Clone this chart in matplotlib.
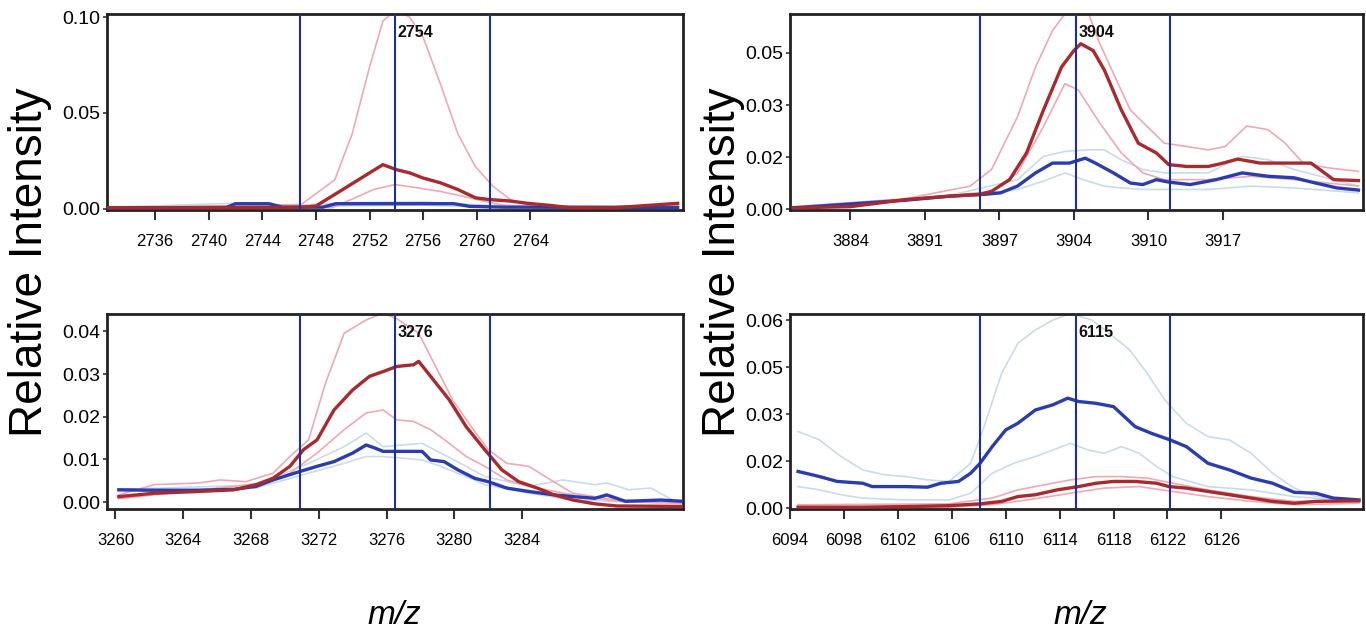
import matplotlib
matplotlib.use("Agg")
import matplotlib.pyplot as plt

plt.rcParams['font.family'] = ['Liberation Sans', 'DejaVu Sans']

# ---- top left: peak 2754 ----
tl_xlim = (2732.4, 2775.4)
tl_ylim = (-0.0007, 0.1017)
tl_xticks = [2736, 2740, 2744, 2748, 2752, 2756, 2760, 2764]
tl_yticks = [0.0, 0.05, 0.10]
tl_ylabels = ['0.00', '0.05', '0.10']
tl_marks = [2746.8, 2753.9, 2761.0]
tl_peak = '2754'

tl_red_x = [2732.4, 2740, 2746.8, 2748, 2750, 2752, 2753, 2754, 2755, 2756, 2757.3, 2758.6,
            2759.9, 2760.9, 2762.5, 2763.8, 2765.5, 2767, 2770.3, 2775]
tl_red_y = [0.0005, 0.0005, 0.0007, 0.0014, 0.010, 0.0187, 0.023, 0.0204, 0.0187, 0.016, 0.0135,
            0.010, 0.0057, 0.0048, 0.004, 0.0028, 0.0017, 0.0005, 0.0005, 0.0028]
tl_pink_hi_x = [2732.4, 2746.9, 2749.4, 2750.7, 2752, 2753, 2754, 2755, 2756, 2757.3, 2758.6,
                2759.9, 2761.2, 2762.5, 2763.8, 2766, 2775]
tl_pink_hi_y = [0.0005, 0.0022, 0.015, 0.039, 0.074, 0.098, 0.104, 0.100, 0.0896, 0.065, 0.039,
                0.022, 0.0118, 0.0048, 0.0022, 0.001, 0.0015]
tl_pink_lo_x = [2732.4, 2749.2, 2750.7, 2752.3, 2753.9, 2755.5, 2757.3, 2758.9, 2760.5, 2762.1,
                2765, 2775]
tl_pink_lo_y = [0.0003, 0.0005, 0.005, 0.010, 0.0126, 0.011, 0.009, 0.0066, 0.004, 0.0017,
                0.0005, 0.001]
tl_blue_x = [2732.4, 2741.3, 2742, 2744.5, 2745.5, 2748.5, 2749.5, 2758.3, 2759.5, 2762, 2775]
tl_blue_y = [0.0005, 0.0006, 0.0026, 0.0026, 0.0008, 0.0008, 0.0026, 0.0026, 0.0012, 0.0008, 0.0006]
tl_lblue_hi_x = [2732.4, 2742, 2746, 2750, 2756, 2760, 2765, 2775]
tl_lblue_hi_y = [0.0008, 0.0028, 0.0015, 0.0032, 0.0036, 0.002, 0.0015, 0.001]
tl_lblue_lo_x = [2732.4, 2742, 2746, 2750, 2756, 2760, 2765, 2775]
tl_lblue_lo_y = [0.0004, 0.0015, 0.0008, 0.0015, 0.0018, 0.001, 0.0008, 0.0005]

# ---- top right: peak 3904 ----
tr_xlim = (3878.65, 3929.4)
tr_ylim = (-0.0002, 0.0637)
tr_xticks = [3884.0, 3890.6, 3897.2, 3903.8, 3910.4, 3917.0]
tr_xlabels = ['3884', '3891', '3897', '3904', '3910', '3917']
tr_yticks = [0.0, 0.017, 0.034, 0.051]
tr_ylabels = ['0.00', '0.02', '0.03', '0.05']
tr_marks = [3895.5, 3904.0, 3912.3]
tr_peak = '3904'

tr_red_x = [3878.95, 3884, 3888.9, 3892.7, 3895.5, 3896.5, 3898.1, 3899.6, 3901.1, 3902.7, 3903.8,
            3904.4, 3905.5, 3906.5, 3908.0, 3909.5, 3911.1, 3912.2, 3913.8, 3915.7, 3916.8,
            3918.3, 3920.3, 3922.5, 3924.8, 3926.8, 3929.0]
tr_red_y = [0.0005, 0.0009, 0.0032, 0.0043, 0.0049, 0.0059, 0.0097, 0.0184, 0.0324, 0.0464, 0.0518,
            0.054, 0.0518, 0.0454, 0.0324, 0.0216, 0.0184, 0.0146, 0.014, 0.014, 0.0149,
            0.0164, 0.0151, 0.0151, 0.0151, 0.0097, 0.0094]
tr_pink_hi_x = [3878.95, 3888.9, 3894.6, 3896.5, 3898.8, 3900.4, 3901.9, 3903.0, 3905.0, 3906.1,
                3907.3, 3908.8, 3910.3, 3911.8, 3913.8, 3915.7, 3917.2, 3919.1, 3921.0, 3922.5,
                3924.1, 3926.4, 3929.0]
tr_pink_hi_y = [0.0009, 0.0035, 0.0076, 0.013, 0.0302, 0.0464, 0.0583, 0.0637, 0.0648, 0.054,
                0.0443, 0.0324, 0.027, 0.0216, 0.0205, 0.0194, 0.0205, 0.0272, 0.026, 0.0216,
                0.0151, 0.0135, 0.0124]
tr_pink_lo_x = [3878.95, 3888.9, 3896.5, 3898.8, 3901.1, 3903.0, 3904.2, 3906.1, 3908.0, 3909.9,
                3911.8, 3915.7, 3919.5, 3923.3, 3929.0]
tr_pink_lo_y = [0.0005, 0.003, 0.0059, 0.0119, 0.027, 0.041, 0.0389, 0.0281, 0.0184, 0.0119,
                0.0097, 0.0097, 0.0108, 0.0097, 0.0076]
tr_blue_x = [3878.95, 3888.9, 3892.7, 3895.8, 3897.3, 3898.8, 3900.4, 3901.9, 3903.4, 3904.8,
             3905.7, 3907.3, 3908.8, 3909.9, 3911.1, 3912.2, 3914.1, 3916.4, 3918.7, 3921.0,
             3923.3, 3925.2, 3927.1, 3929.0]
tr_blue_y = [0.0005, 0.003, 0.0043, 0.0049, 0.0054, 0.0076, 0.0119, 0.0151, 0.0151, 0.0167,
             0.0151, 0.0119, 0.0086, 0.0081, 0.0097, 0.0089, 0.0081, 0.0097, 0.0119, 0.0108,
             0.0103, 0.0086, 0.007, 0.0063]
tr_lblue_hi_x = [3878.95, 3892.7, 3898.8, 3901.1, 3903.0, 3905.0, 3906.5, 3908.0, 3909.9, 3911.8,
                 3915.7, 3918.7, 3921.0, 3923.3, 3929.0]
tr_lblue_hi_y = [0.0005, 0.0045, 0.0097, 0.0173, 0.0189, 0.0194, 0.0194, 0.0162, 0.013, 0.0119,
                 0.0119, 0.0173, 0.0162, 0.013, 0.0076]
tr_lblue_lo_x = [3878.95, 3892.7, 3898.8, 3901.1, 3903.0, 3905.0, 3906.5, 3908.0, 3909.9, 3915.7,
                 3919.5, 3923.3, 3929.0]
tr_lblue_lo_y = [0.0005, 0.004, 0.0065, 0.0092, 0.0119, 0.0092, 0.0076, 0.007, 0.0065, 0.0065,
                 0.0076, 0.007, 0.0054]

# ---- bottom left: peak 3276 ----
bl_xlim = (3259.5, 3293.5)
bl_ylim = (-0.0016, 0.0441)
bl_xticks = [3260, 3264, 3268, 3272, 3276, 3280, 3284]
bl_yticks = [0.0, 0.01, 0.02, 0.03, 0.04]
bl_ylabels = ['0.00', '0.01', '0.02', '0.03', '0.04']
bl_marks = [3270.9, 3276.5, 3282.1]
bl_peak = '3276'

bl_red_x = [3260.2, 3262.3, 3264.9, 3267.0, 3268.3, 3269.3, 3270.3, 3271.1, 3271.9, 3272.9, 3274.0,
            3275.0, 3275.8, 3276.6, 3277.6, 3277.9, 3278.6, 3279.7, 3280.7, 3281.8, 3282.8,
            3283.8, 3284.9, 3285.9, 3287.0, 3288.3, 3289.6, 3293.5]
bl_red_y = [0.0013, 0.0021, 0.0025, 0.0029, 0.0041, 0.0056, 0.0084, 0.0123, 0.0146, 0.0216, 0.0263,
            0.0295, 0.0306, 0.0318, 0.0322, 0.033, 0.0295, 0.024, 0.0177, 0.0123, 0.0076,
            0.0048, 0.0033, 0.0017, 0.0005, -0.0004, -0.0009, -0.001]
bl_pink_hi_x = [3260.2, 3262.3, 3264.9, 3266.2, 3267.7, 3269.3, 3270.3, 3271.4, 3272.4, 3273.5,
                3274.8, 3275.8, 3276.6, 3277.9, 3278.9, 3279.9, 3281.0, 3282.0, 3283.1, 3284.4,
                3285.7, 3287.0, 3289.6, 3293.5]
bl_pink_hi_y = [0.0017, 0.0041, 0.0045, 0.0052, 0.0048, 0.0068, 0.0107, 0.0146, 0.0279, 0.0396,
                0.0427, 0.0443, 0.043, 0.0396, 0.0318, 0.024, 0.0177, 0.0123, 0.0091, 0.0084,
                0.0052, 0.0021, 0.0005, -0.0002]
bl_pink_lo_x = [3260.2, 3268.8, 3270.3, 3271.9, 3273.5, 3274.8, 3275.8, 3276.6, 3277.6, 3278.6,
                3279.7, 3280.7, 3281.8, 3283.1, 3284.4, 3287.0, 3289.6, 3293.5]
bl_pink_lo_y = [0.0008, 0.0045, 0.0068, 0.0115, 0.017, 0.0209, 0.0216, 0.0193, 0.0189, 0.017,
                0.0138, 0.0107, 0.0084, 0.0052, 0.0037, 0.0017, 0.0002, -0.0003]
bl_blue_x = [3260.2, 3262.3, 3264.9, 3267.0, 3268.3, 3269.3, 3270.9, 3271.9, 3272.9, 3274.0,
             3274.8, 3275.3, 3275.8, 3278.1, 3278.6, 3279.4, 3280.2, 3281.2, 3282.0, 3283.1,
             3284.4, 3285.9, 3287.0, 3288.3, 3289.0, 3290.1, 3292.2, 3293.5]
bl_blue_y = [0.0029, 0.0028, 0.0028, 0.003, 0.0037, 0.0052, 0.0072, 0.0084, 0.0095, 0.0115,
             0.0134, 0.0127, 0.0119, 0.0119, 0.0099, 0.0095, 0.0076, 0.0056, 0.0048, 0.0033,
             0.0025, 0.0017, 0.0013, 0.0009, 0.0017, 0.0002, 0.0005, 0.0002]
bl_lblue_hi_x = [3260.2, 3268.3, 3271.4, 3273.5, 3274.8, 3275.8, 3278.1, 3279.2, 3280.7, 3281.8,
                 3284.4, 3286.4, 3288.3, 3289.0, 3290.3, 3291.6, 3292.9]
bl_lblue_hi_y = [0.003, 0.004, 0.0091, 0.013, 0.0162, 0.013, 0.0138, 0.0115, 0.0084, 0.006,
                 0.0037, 0.0052, 0.0041, 0.0045, 0.0029, 0.0033, 0.0005]
bl_lblue_lo_x = [3260.2, 3268.3, 3271.4, 3273.5, 3274.8, 3275.8, 3278.1, 3279.2, 3280.7, 3281.8,
                 3284.4, 3287.0, 3292.2]
bl_lblue_lo_y = [0.0025, 0.0033, 0.0068, 0.0091, 0.0107, 0.0107, 0.0099, 0.0084, 0.006, 0.0041,
                 0.0021, 0.0005, -0.0002]

# ---- bottom right: peak 6115 ----
br_xlim = (6094.0, 6136.5)
br_ylim = (-0.0003, 0.0641)
br_xticks = [6094, 6098, 6102, 6106, 6110, 6114, 6118, 6122, 6126]
br_yticks = [0.0, 0.0155, 0.031, 0.0465, 0.062]
br_ylabels = ['0.00', '0.02', '0.03', '0.05', '0.06']
br_marks = [6108.06, 6115.2, 6122.2]
br_peak = '6115'

br_blue_x = [6094.6, 6096.2, 6097.5, 6099.4, 6100.1, 6102.6, 6104.2, 6105.2, 6106.5, 6107.4, 6108.1,
             6109.0, 6110.0, 6110.9, 6112.2, 6113.5, 6114.6, 6115.4, 6116.7, 6118.0, 6119.6,
             6120.8, 6122.2, 6123.4, 6125.0, 6126.6, 6128.2, 6129.8, 6131.4, 6133.0, 6134.3, 6136.2]
br_blue_y = [0.0121, 0.0104, 0.0088, 0.0082, 0.0071, 0.0071, 0.0069, 0.0082, 0.0088, 0.0115, 0.0148,
             0.0203, 0.0258, 0.028, 0.0324, 0.0341, 0.0363, 0.0352, 0.0346, 0.0335, 0.0269,
             0.0247, 0.0225, 0.0203, 0.0148, 0.0126, 0.0099, 0.0082, 0.0052, 0.0049, 0.0033, 0.0027]
br_lblue_hi_x = [6094.6, 6096.2, 6097.8, 6099.4, 6101.0, 6102.6, 6104.2, 6105.8, 6107.4, 6108.4,
                 6109.7, 6110.9, 6112.2, 6113.5, 6114.8, 6116.4, 6118.0, 6119.2, 6120.5, 6121.8,
                 6123.4, 6125.0, 6126.6, 6128.2, 6129.8, 6131.4, 6133.0, 6136.2]
br_lblue_hi_y = [0.0253, 0.0225, 0.017, 0.0126, 0.011, 0.0104, 0.0093, 0.0088, 0.0148, 0.0269,
                 0.0445, 0.0544, 0.0588, 0.0621, 0.0643, 0.0621, 0.0566, 0.0522, 0.0445, 0.0357,
                 0.028, 0.0236, 0.0225, 0.0181, 0.0115, 0.0066, 0.0038, 0.0027]
br_lblue_lo_x = [6094.6, 6096.2, 6097.8, 6099.4, 6102.6, 6105.8, 6107.4, 6109.0, 6110.6, 6112.2,
                 6114.8, 6116.1, 6117.3, 6118.6, 6119.9, 6121.2, 6122.4, 6125.0, 6128.2, 6131.4, 6136.2]
br_lblue_lo_y = [0.0071, 0.006, 0.0044, 0.0033, 0.0027, 0.0027, 0.0049, 0.0115, 0.0148, 0.017,
                 0.0214, 0.0192, 0.0181, 0.0203, 0.0181, 0.0137, 0.0104, 0.0071, 0.006, 0.0038, 0.0022]
br_red_x = [6094.6, 6099.4, 6102.6, 6105.8, 6108.1, 6109.7, 6110.9, 6112.2, 6113.8, 6115.4, 6116.7,
            6118.0, 6119.6, 6121.2, 6122.1, 6123.4, 6125.0, 6126.6, 6128.2, 6129.8, 6131.4, 6133.0, 6136.2]
br_red_y = [0.0003, 0.0003, 0.0005, 0.0008, 0.0014, 0.0022, 0.0038, 0.0044, 0.006, 0.0071, 0.0082,
            0.0088, 0.0088, 0.0082, 0.0071, 0.0066, 0.0055, 0.0044, 0.0033, 0.0022, 0.0016, 0.0022, 0.0024]
br_pink_hi_x = [6094.6, 6105.8, 6109.0, 6110.9, 6112.9, 6114.8, 6116.7, 6118.6, 6120.5, 6122.4,
                6125.0, 6128.2, 6131.4, 6136.2]
br_pink_hi_y = [0.0011, 0.0014, 0.0033, 0.006, 0.0077, 0.0093, 0.0104, 0.0104, 0.0099, 0.0082,
                0.006, 0.0038, 0.0022, 0.0027]
br_pink_lo_x = [6094.6, 6105.8, 6109.0, 6111.6, 6114.8, 6117.3, 6119.9, 6122.4, 6125.0, 6128.2,
                6131.4, 6136.2]
br_pink_lo_y = [0.0, 0.0003, 0.0011, 0.0027, 0.0049, 0.0066, 0.0071, 0.0055, 0.0038, 0.0022,
                0.0011, 0.0016]

RED = '#a82a2e'
PINK = '#eeaab2'
BLUE = '#2a3cae'
LBLUE = '#c9dcea'
MARK = '#1c2fa0'


def draw_panel(ax, xlim, ylim, xticks, xlabels, yticks, ylabels, marks, peak,
               red, pink_hi, pink_lo, blue, lblue_hi, lblue_lo):
    ax.plot(*lblue_hi, color=LBLUE, lw=1.2, zorder=1)
    ax.plot(*lblue_lo, color=LBLUE, lw=1.2, zorder=1)
    ax.plot(*pink_hi, color=PINK, lw=1.2, zorder=2)
    ax.plot(*pink_lo, color=PINK, lw=1.2, zorder=2)
    ax.plot(*blue, color=BLUE, lw=2.4, zorder=3)
    ax.plot(*red, color=RED, lw=2.4, zorder=3)
    for m in marks:
        ax.axvline(m, color=MARK, lw=1.5, zorder=4)
    ax.annotate(peak, xy=(marks[1], 0.905), xycoords=('data', 'axes fraction'),
                xytext=(2, 0), textcoords='offset points', ha='left', va='center',
                fontsize=11.5, fontweight='bold', color='#111111', zorder=5)
    ax.set_xlim(*xlim)
    ax.set_ylim(*ylim)
    ax.set_xticks(xticks)
    ax.set_xticklabels(xlabels, fontsize=12)
    ax.set_yticks(yticks)
    ax.set_yticklabels(ylabels, fontsize=14)
    ax.tick_params(axis='x', direction='out', length=7, width=1.5, pad=10, color='#333333')
    ax.tick_params(axis='y', direction='out', length=3, width=1.2, pad=2, color='#333333')
    for sp in ax.spines.values():
        sp.set_linewidth(2)
        sp.set_color('#222222')


fig = plt.figure(figsize=(13.66, 6.29), dpi=100)
ax_tl = fig.add_axes([0.0783, 0.6661, 0.4217, 0.3116])
ax_tr = fig.add_axes([0.5783, 0.6661, 0.4195, 0.3116])
ax_bl = fig.add_axes([0.0783, 0.1908, 0.4217, 0.3100])
ax_br = fig.add_axes([0.5783, 0.1908, 0.4195, 0.3100])

draw_panel(ax_tl, tl_xlim, tl_ylim, tl_xticks, [str(v) for v in tl_xticks], tl_yticks, tl_ylabels,
           tl_marks, tl_peak, (tl_red_x, tl_red_y), (tl_pink_hi_x, tl_pink_hi_y),
           (tl_pink_lo_x, tl_pink_lo_y), (tl_blue_x, tl_blue_y),
           (tl_lblue_hi_x, tl_lblue_hi_y), (tl_lblue_lo_x, tl_lblue_lo_y))
draw_panel(ax_tr, tr_xlim, tr_ylim, tr_xticks, tr_xlabels, tr_yticks, tr_ylabels,
           tr_marks, tr_peak, (tr_red_x, tr_red_y), (tr_pink_hi_x, tr_pink_hi_y),
           (tr_pink_lo_x, tr_pink_lo_y), (tr_blue_x, tr_blue_y),
           (tr_lblue_hi_x, tr_lblue_hi_y), (tr_lblue_lo_x, tr_lblue_lo_y))
draw_panel(ax_bl, bl_xlim, bl_ylim, bl_xticks, [str(v) for v in bl_xticks], bl_yticks, bl_ylabels,
           bl_marks, bl_peak, (bl_red_x, bl_red_y), (bl_pink_hi_x, bl_pink_hi_y),
           (bl_pink_lo_x, bl_pink_lo_y), (bl_blue_x, bl_blue_y),
           (bl_lblue_hi_x, bl_lblue_hi_y), (bl_lblue_lo_x, bl_lblue_lo_y))
draw_panel(ax_br, br_xlim, br_ylim, br_xticks, [str(v) for v in br_xticks], br_yticks, br_ylabels,
           br_marks, br_peak, (br_red_x, br_red_y), (br_pink_hi_x, br_pink_hi_y),
           (br_pink_lo_x, br_pink_lo_y), (br_blue_x, br_blue_y),
           (br_lblue_hi_x, br_lblue_hi_y), (br_lblue_lo_x, br_lblue_lo_y))

fig.text(0.022, 0.583, 'Relative Intensity', rotation=90, fontsize=33, ha='center', va='center')
fig.text(0.529, 0.583, 'Relative Intensity', rotation=90, fontsize=33, ha='center', va='center')
fig.text(0.289, 0.022, 'm/z', fontsize=24, style='italic', ha='center', va='center')
fig.text(0.791, 0.022, 'm/z', fontsize=24, style='italic', ha='center', va='center')

fig.savefig('out.png', dpi=100)
